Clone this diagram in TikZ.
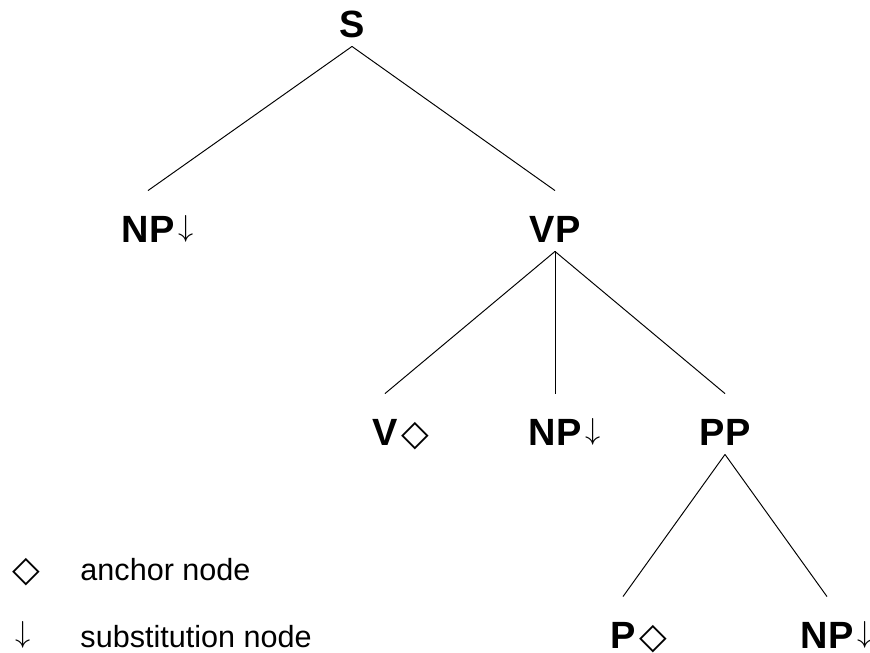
\documentclass[tikz,border=0pt]{standalone}
\usepackage{fontspec}
\setmainfont{Liberation Sans}
\newfontfamily\dejavu{DejaVu Sans}
\usetikzlibrary{positioning}

% foot symbols of the elementary tree
\newcommand{\anchorsym}{{\dejavu\fontsize{20.5pt}{22pt}\selectfont ◇}}
\newcommand{\substsym}{{\fontsize{17.3pt}{18pt}\selectfont$\downarrow$}}

\tikzset{
  cat/.style={font=\fontsize{21.6pt}{24pt}\selectfont\bfseries, inner sep=0pt,
    text height=29pt, text depth=5.1pt, anchor=base},
  leaf/.style={cat, text depth=0pt},
  sym/.style={inner sep=0pt, anchor=base west},
  down/.style={sym, yshift=3.4pt},
  diam/.style={sym, yshift=-0.3pt},
  keytext/.style={font=\fontsize{17.4pt}{20pt}\selectfont, inner sep=0pt, anchor=base west}
}

\begin{document}
\begin{tikzpicture}[x=0.02cm, y=-0.02cm, line width=0.55pt]
  \useasboundingbox (0,0) rectangle (870,653);
  % categories
  \node[cat] (s) at (352,37) {S};
  \node[leaf] (np1) at (148,242) {NP};
  \node[cat] (vp) at (555,242) {VP};
  \node[leaf] (v) at (385,445) {V};
  \node[leaf] (np2) at (555,445) {NP};
  \node[cat] (pp) at (725,445) {PP};
  \node[leaf] (p) at (623,648) {P};
  \node[leaf] (np3) at (827,648) {NP};
  % anchor and substitution marks
  \node[down, right=1.7pt of np1.base east, anchor=base west] (np1-mark) {\substsym};
  \node[down, right=1.7pt of np2.base east, anchor=base west] (np2-mark) {\substsym};
  \node[down, right=1.7pt of np3.base east, anchor=base west] (np3-mark) {\substsym};
  \node[diam, right=1.5pt of v.base east, anchor=base west] (v-mark) {\anchorsym};
  \node[diam, right=1.5pt of p.base east, anchor=base west] (p-mark) {\anchorsym};
  % branches
  \draw (s.south) -- (np1.north);
  \draw (s.south) -- (vp.north);
  \draw (vp.south) -- (v.north);
  \draw (vp.south) -- (np2.north);
  \draw (vp.south) -- (pp.north);
  \draw (pp.south) -- (p.north);
  \draw (pp.south) -- (np3.north);
  % key
  \node[diam] (key-anchor) at (12,581) {\anchorsym};
  \node[keytext] (key-anchor-text) at (80,580) {anchor node};
  \node[down] (key-subst) at (15.5,648) {\substsym};
  \node[keytext] (key-subst-text) at (80,647) {substitution node};
\end{tikzpicture}
\end{document}
